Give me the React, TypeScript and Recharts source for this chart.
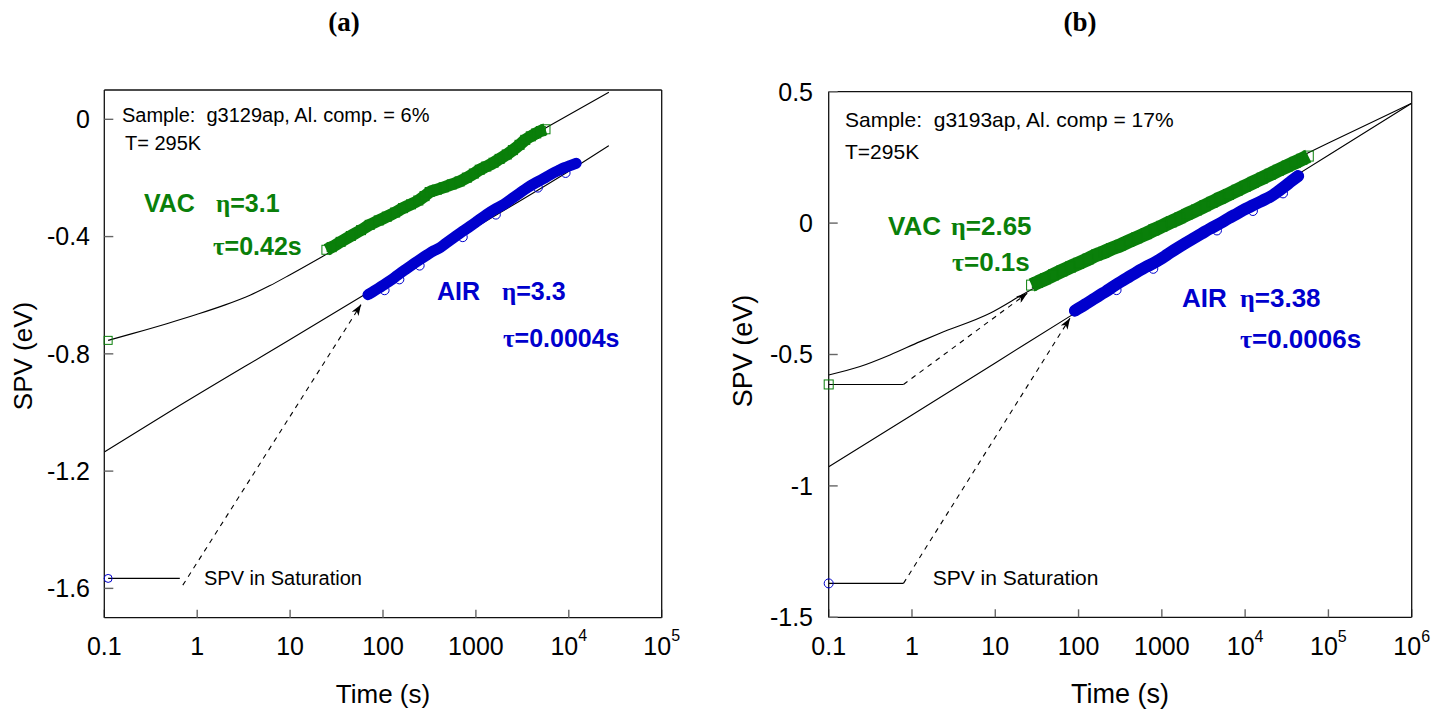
import React from 'react'
import { ComposedChart, Line, Scatter, XAxis, YAxis } from 'recharts'

type P = [number, number]

// ---- panel (a): g3129ap, Al 6% ----
const xTicksA = [0.1, 1, 10, 100, 1000, 10000, 100000]
const xLabelsA = ['0.1', '1', '10', '100', '1000', '10^4', '10^5']
const yTicksA = [-1.6, -1.2, -0.8, -0.4, 0]

const vacFitA: P[] = [[0.11, -0.754], [0.2, -0.731], [0.47, -0.697], [1, -0.665], [2, -0.633], [3.7, -0.6], [6, -0.568], [10, -0.53], [25, -0.459], [100, -0.349], [1000, -0.166], [6200, -0.022], [27000, 0.092]]
const airFitA: P[] = [[0.1, -1.135], [0.55, -0.99], [10, -0.751], [100, -0.56], [1000, -0.368], [10000, -0.177], [27000, -0.09]]
const vacDataA: P[] = [[24.6, -0.445], [28, -0.436], [35, -0.418], [45, -0.398], [58, -0.378], [72, -0.36], [90, -0.345], [110, -0.332], [135, -0.318], [164, -0.303], [200, -0.29], [240, -0.277], [280, -0.262], [318, -0.248], [380, -0.24], [450, -0.232], [550, -0.222], [668, -0.212], [800, -0.199], [950, -0.185], [1100, -0.172], [1294, -0.161], [1550, -0.148], [1800, -0.135], [2150, -0.12], [2500, -0.105], [2950, -0.087], [3400, -0.07], [3900, -0.058], [4460, -0.048], [5000, -0.04], [5610, -0.034]]
const airDataA: P[] = [[69, -0.598], [78, -0.588], [90, -0.576], [104, -0.563], [120, -0.55], [135, -0.538], [150, -0.527], [175, -0.512], [205, -0.497], [248, -0.479], [300, -0.462], [350, -0.449], [400, -0.44], [480, -0.422], [600, -0.4], [720, -0.382], [855, -0.366], [1050, -0.346], [1300, -0.325], [1600, -0.307], [2000, -0.29], [2450, -0.27], [2950, -0.252], [3600, -0.233], [4500, -0.215], [5600, -0.199], [6730, -0.184], [7800, -0.174], [9000, -0.165], [10500, -0.157], [12000, -0.15]]
const airStrayA: P[] = [[104, -0.583], [150, -0.546], [248, -0.499], [722, -0.402], [1640, -0.325], [4650, -0.233], [9230, -0.183]]
const vacSatA: P[] = [[0.11, -0.754]]
const airSatA: P[] = [[0.11, -1.566]]
const airSatLineA: P[] = [[0.11, -1.566], [0.65, -1.566]]
const airArrowA: P[] = [[0.7, -1.589], [58, -0.632]]

// ---- panel (b): g3193ap, Al 17% ----
const xTicksB = [0.1, 1, 10, 100, 1000, 10000, 100000, 1000000]
const xLabelsB = ['0.1', '1', '10', '100', '1000', '10^4', '10^5', '10^6']
const yTicksB = [-1.5, -1, -0.5, 0, 0.5]

const vacFitB: P[] = [[0.1, -0.578], [0.238, -0.546], [0.544, -0.502], [1.25, -0.451], [2.17, -0.419], [8.63, -0.343], [23.8, -0.263], [100, -0.16], [1000, -0.006], [10000, 0.15], [100000, 0.305], [1000000, 0.456]]
const airFitB: P[] = [[0.1, -0.927], [1, -0.73], [10, -0.532], [100, -0.334], [1000, -0.137], [10000, 0.061], [100000, 0.258], [1000000, 0.456]]
const vacDataB: P[] = [[27.3, -0.236], [32, -0.226], [40, -0.212], [50, -0.197], [63, -0.182], [80, -0.167], [100, -0.153], [130, -0.137], [165, -0.121], [200, -0.111], [250, -0.097], [314, -0.085], [400, -0.07], [500, -0.056], [650, -0.04], [800, -0.026], [1000, -0.012], [1300, 0.005], [1650, 0.02], [2000, 0.033], [2600, 0.05], [3300, 0.066], [4000, 0.079], [4990, 0.094], [6300, 0.109], [8000, 0.125], [10000, 0.14], [12500, 0.155], [16000, 0.171], [20000, 0.186], [25000, 0.201], [32000, 0.217], [40000, 0.231], [48000, 0.243], [57300, 0.255]]
const airDataB: P[] = [[90.6, -0.333], [105, -0.321], [125, -0.306], [150, -0.29], [180, -0.274], [215, -0.259], [250, -0.245], [300, -0.229], [350, -0.216], [400, -0.205], [480, -0.19], [580, -0.175], [680, -0.163], [789, -0.153], [950, -0.138], [1150, -0.121], [1500, -0.097], [1900, -0.077], [2400, -0.058], [3000, -0.04], [3800, -0.021], [4990, -0.001], [6300, 0.018], [8000, 0.036], [10000, 0.053], [12500, 0.068], [16000, 0.085], [19900, 0.1], [24000, 0.117], [30000, 0.14], [36000, 0.16], [43300, 0.179]]
const airStrayB: P[] = [[286, -0.255], [789, -0.174], [4590, -0.028], [12400, 0.046], [28500, 0.113]]
const vacSatB: P[] = [[0.1, -0.614]]
const airSatB: P[] = [[0.1, -1.371]]
const vacSatLineB: P[] = [[0.1, -0.614], [0.79, -0.614]]
const airSatLineB: P[] = [[0.1, -1.371], [0.79, -1.371]]
const vacArrowB: P[] = [[0.79, -0.614], [24.2, -0.267]]
const airArrowB: P[] = [[0.79, -1.371], [78.9, -0.362]]

const FONT = '"Liberation Sans", Arial, sans-serif'
const SERIF = '"Liberation Serif", "Times New Roman", serif'
const GREEN = '#0a7f0a'
const BLUE = '#0000cd'

const toPts = (arr: P[]) => arr.map(([t, v]) => ({ t, v }))

const squareShape = (color: string, s: number) => (p: any) => (
  <rect x={p.cx - s / 2} y={p.cy - s / 2} width={s} height={s} fill="none" stroke={color} strokeWidth={1} />
)
const circleShape = (color: string, r: number) => (p: any) => (
  <circle cx={p.cx} cy={p.cy} r={r} fill="none" stroke={color} strokeWidth={1} />
)
const Empty = () => <g />

function XTick({ x, y, payload, ticks, labels, fontSize }: any) {
  const i = ticks.findIndex((t: number) => Math.abs(t - payload.value) < 1e-9 * Math.max(1, t))
  const lab: string = i >= 0 ? labels[i] : String(payload.value)
  const [base, sup] = lab.split('^')
  return (
    <text x={x} y={y} dy={fontSize * 0.71} textAnchor="middle" fontSize={fontSize} fontFamily={FONT} fill="#000">
      {base}
      {sup && <tspan dy={-fontSize * 0.54} fontSize={fontSize * 0.64}>{sup}</tspan>}
    </text>
  )
}

interface PanelProps {
  id: string
  width: number
  margin: { top: number; right: number; bottom: number; left: number }
  xTicks: number[]
  xLabels: string[]
  yTicks: number[]
  yDomain: [number, number]
  tickFont: number
  xTickMargin: number
  yTickMargin: number
  fits: P[][]
  satLines: P[][]
  arrows: P[][]
  bands: { data: P[]; color: string; width: number; cap: 'butt' | 'round'; kind: 'square' | 'circle'; size: number }[]
  strays: { data: P[]; color: string; size: number }[]
  sats: { data: P[]; color: string; kind: 'square' | 'circle'; size: number }[]
}

function Panel(p: PanelProps) {
  const xDomain: [number, number] = [p.xTicks[0], p.xTicks[p.xTicks.length - 1]]
  const axisLine = { stroke: '#111', strokeWidth: 1.3 }
  const tickLine = { stroke: '#666', strokeWidth: 1.4 }
  return (
    <ComposedChart width={p.width} height={715} margin={p.margin}>
      <defs>
        <marker id={`arrow-${p.id}`} viewBox="0 0 11 8" refX="11" refY="4" markerWidth="11" markerHeight="8" markerUnits="userSpaceOnUse" orient="auto">
          <path d="M0,0 L11,4 L0,8 L3,4 Z" fill="#000" />
        </marker>
      </defs>
      <XAxis dataKey="t" type="number" scale="log" domain={xDomain} ticks={p.xTicks} interval={0}
        height={60} tickSize={-8} tickMargin={p.xTickMargin} axisLine={axisLine} tickLine={tickLine}
        tick={<XTick ticks={p.xTicks} labels={p.xLabels} fontSize={p.tickFont} />} />
      <XAxis xAxisId="top" orientation="top" dataKey="t" type="number" scale="log" domain={xDomain} ticks={p.xTicks}
        interval={0} height={1} tickSize={-8} axisLine={axisLine} tickLine={tickLine} tick={<Empty />} />
      <YAxis dataKey="v" type="number" domain={p.yDomain} ticks={p.yTicks} interval={0}
        width={60} tickSize={-9} tickMargin={p.yTickMargin} axisLine={axisLine} tickLine={tickLine}
        tick={{ fontSize: p.tickFont, fill: '#000', fontFamily: FONT }} />
      <YAxis yAxisId="right" orientation="right" dataKey="v" type="number" domain={p.yDomain} ticks={p.yTicks}
        interval={0} width={1} tickSize={-9} axisLine={axisLine} tickLine={tickLine} tick={<Empty />} />

      {p.fits.map((f, i) => (
        <Line key={`fit${i}`} data={toPts(f)} dataKey="v" type="monotone" stroke="#000" strokeWidth={1.1}
          dot={false} activeDot={false} isAnimationActive={false} />
      ))}
      {p.satLines.map((f, i) => (
        <Line key={`sat${i}`} data={toPts(f)} dataKey="v" type="linear" stroke="#000" strokeWidth={1.1}
          dot={false} activeDot={false} isAnimationActive={false} />
      ))}
      {p.arrows.map((f, i) => (
        <Line key={`arr${i}`} data={toPts(f)} dataKey="v" type="linear" stroke="#000" strokeWidth={1.1}
          strokeDasharray="5 5" markerEnd={`url(#arrow-${p.id})`} dot={false} activeDot={false} isAnimationActive={false} />
      ))}
      {p.bands.map((b, i) => (
        <Line key={`band${i}`} data={toPts(b.data)} dataKey="v" type="monotone" stroke={b.color} strokeWidth={b.width}
          strokeLinecap={b.cap} strokeLinejoin="round" dot={false} activeDot={false} isAnimationActive={false} />
      ))}
      {p.bands.map((b, i) => (
        <Scatter key={`bandpts${i}`} data={toPts(b.data)} dataKey="v" isAnimationActive={false}
          shape={b.kind === 'square' ? squareShape(b.color, b.size) : circleShape(b.color, b.size / 2)} />
      ))}
      {p.strays.map((b, i) => (
        <Scatter key={`stray${i}`} data={toPts(b.data)} dataKey="v" isAnimationActive={false}
          shape={circleShape(b.color, b.size / 2)} />
      ))}
      {p.sats.map((b, i) => (
        <Scatter key={`satpt${i}`} data={toPts(b.data)} dataKey="v" isAnimationActive={false}
          shape={b.kind === 'square' ? squareShape(b.color, b.size) : circleShape(b.color, b.size / 2)} />
      ))}
    </ComposedChart>
  )
}

function Annotations() {
  const t = (x: number, y: number, s: string, size: number, extra: any = {}) => (
    <text x={x} y={y} fontSize={size} fontFamily={FONT} fill="#000" style={{ whiteSpace: 'pre' }} {...extra}>{s}</text>
  )
  const greek = (x: number, y: number, g: string, rest: string, size: number, color: string) => (
    <text x={x} y={y} fontSize={size} fontFamily={FONT} fontWeight="bold" fill={color}>
      <tspan fontFamily={SERIF}>{g}</tspan>{rest}
    </text>
  )
  return (
    <svg width={1451} height={715} style={{ position: 'absolute', left: 0, top: 0, pointerEvents: 'none' }}>
      {/* titles */}
      <text x={344} y={31} textAnchor="middle" fontSize={27} fontFamily={SERIF} fontWeight="bold">(a)</text>
      <text x={1080} y={31} textAnchor="middle" fontSize={27} fontFamily={SERIF} fontWeight="bold">(b)</text>

      {/* panel a */}
      {t(122, 122, 'Sample:  g3129ap, Al. comp. = 6%', 20)}
      {t(125, 149.5, 'T= 295K', 20)}
      {t(144, 212, 'VAC', 25, { fontWeight: 'bold', fill: GREEN })}
      {greek(216, 212, 'η', '=3.1', 25, GREEN)}
      {greek(213, 255, 'τ', '=0.42s', 25, GREEN)}
      {t(437, 300, 'AIR', 25, { fontWeight: 'bold', fill: BLUE })}
      {greek(502, 300, 'η', '=3.3', 25, BLUE)}
      {greek(503, 347, 'τ', '=0.0004s', 25, BLUE)}
      {t(204, 585, 'SPV in Saturation', 20)}
      {t(383, 703, 'Time (s)', 26, { textAnchor: 'middle' })}
      {t(31.5, 356, 'SPV (eV)', 26, { textAnchor: 'middle', transform: 'rotate(-90 31.5 356)' })}

      {/* panel b */}
      {t(845, 126.5, 'Sample:  g3193ap, Al. comp = 17%', 21)}
      {t(845, 158.5, 'T=295K', 21)}
      {t(888, 235, 'VAC', 26, { fontWeight: 'bold', fill: GREEN })}
      {greek(951, 235, 'η', '=2.65', 26, GREEN)}
      {greek(952, 271, 'τ', '=0.1s', 26, GREEN)}
      {t(1182, 307, 'AIR', 26, { fontWeight: 'bold', fill: BLUE })}
      {greek(1240, 307, 'η', '=3.38', 26, BLUE)}
      {greek(1240, 347.5, 'τ', '=0.0006s', 26, BLUE)}
      {t(932.7, 585, 'SPV in Saturation', 21)}
      {t(1120, 703, 'Time (s)', 27, { textAnchor: 'middle' })}
      {t(752, 351, 'SPV (eV)', 27, { textAnchor: 'middle', transform: 'rotate(-90 752 351)' })}
    </svg>
  )
}

export default function App() {
  return (
    <div style={{ position: 'absolute', left: 0, top: 0, width: 1451, height: 715, background: '#fff' }}>
      <div style={{ position: 'absolute', left: 0, top: 0 }}>
        <Panel
          id="a"
          width={700}
          margin={{ top: 89, right: 37.3, bottom: 37.3, left: 44.3 }}
          xTicks={xTicksA}
          xLabels={xLabelsA}
          yTicks={yTicksA}
          yDomain={[-1.7, 0.1]}
          tickFont={25}
          xTickMargin={27.5}
          yTickMargin={23.3}
          fits={[vacFitA, airFitA]}
          satLines={[airSatLineA]}
          arrows={[airArrowA]}
          bands={[
            { data: vacDataA, color: GREEN, width: 12, cap: 'butt', kind: 'square', size: 9 },
            { data: airDataA, color: BLUE, width: 11, cap: 'round', kind: 'circle', size: 9 },
          ]}
          strays={[{ data: airStrayA, color: BLUE, size: 9 }]}
          sats={[
            { data: vacSatA, color: GREEN, kind: 'square', size: 8 },
            { data: airSatA, color: BLUE, kind: 'circle', size: 8 },
          ]}
        />
      </div>
      <div style={{ position: 'absolute', left: 720, top: 0 }}>
        <Panel
          id="b"
          width={731}
          margin={{ top: 90.7, right: 38.3, bottom: 37.7, left: 48.7 }}
          xTicks={xTicksB}
          xLabels={xLabelsB}
          yTicks={yTicksB}
          yDomain={[-1.5, 0.5]}
          tickFont={25}
          xTickMargin={28}
          yTickMargin={24.7}
          fits={[vacFitB, airFitB]}
          satLines={[vacSatLineB, airSatLineB]}
          arrows={[vacArrowB, airArrowB]}
          bands={[
            { data: vacDataB, color: GREEN, width: 14, cap: 'butt', kind: 'square', size: 10 },
            { data: airDataB, color: BLUE, width: 12, cap: 'round', kind: 'circle', size: 10 },
          ]}
          strays={[{ data: airStrayB, color: BLUE, size: 9 }]}
          sats={[
            { data: vacSatB, color: GREEN, kind: 'square', size: 9 },
            { data: airSatB, color: BLUE, kind: 'circle', size: 9 },
          ]}
        />
      </div>
      <Annotations />
    </div>
  )
}
